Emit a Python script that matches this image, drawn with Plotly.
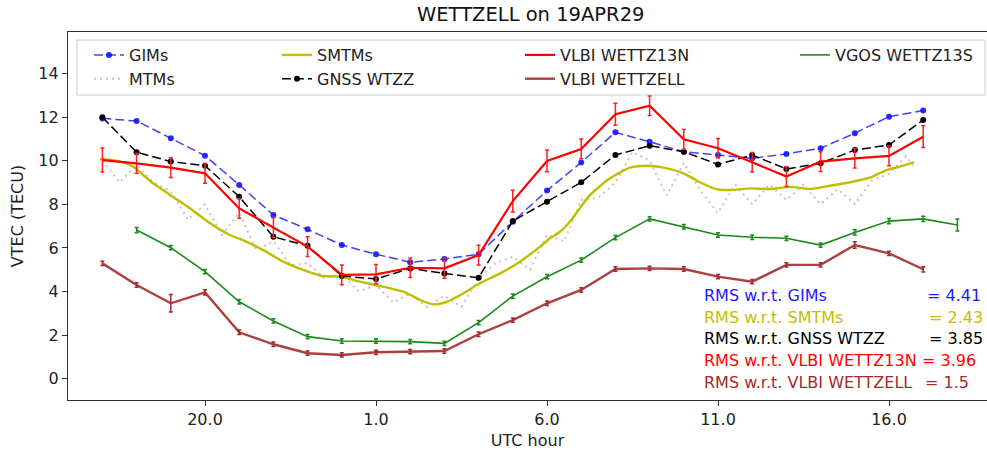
import plotly.graph_objects as go

# ---------------- data ----------------
hours = list(range(17, 42))  # 17 (prev day) ... 41 (=17 UTC)
gims = [11.94, 11.82, 11.03, 10.23, 8.89, 7.51, 6.85, 6.13, 5.71, 5.34, 5.49, 5.71, 7.2,
        8.63, 9.92, 11.3, 10.87, 10.41, 10.26, 10.11, 10.31, 10.57, 11.26, 12.02, 12.3]
gnss = [11.99, 10.39, 9.96, 9.77, 8.35, 6.51, 6.1, 4.71, 4.57, 5.06, 4.83, 4.63, 7.23,
        8.12, 9.01, 10.26, 10.69, 10.41, 9.83, 10.26, 9.62, 9.88, 10.49, 10.72, 11.87]
vlbi13n = [10.03, 9.88, 9.68, 9.42, 7.81, 6.93, 6.06, 4.76, 4.79, 5.09, 5.06, 5.67, 8.15,
           9.99, 10.54, 12.13, 12.52, 10.98, 10.57, 9.93, 9.27, 9.96, 10.11, 10.22, 11.1]
vlbi13n_err = [0.55, 0.45, 0.45, 0.45, 0.45, 0.45, 0.45, 0.45, 0.45, 0.45, 0.45, 0.45, 0.5,
               0.5, 0.45, 0.5, 0.45, 0.45, 0.45, 0.45, 0.45, 0.45, 0.45, 0.45, 0.5]
wettzell = [5.29, 4.3, 3.46, 3.96, 2.13, 1.58, 1.17, 1.09, 1.21, 1.24, 1.27, 2.04, 2.69,
            3.46, 4.07, 5.03, 5.06, 5.03, 4.68, 4.45, 5.22, 5.22, 6.13, 5.75, 5.02]
wettzell_err = [0.1, 0.1, 0.4, 0.12, 0.1, 0.1, 0.1, 0.1, 0.1, 0.1, 0.1, 0.1, 0.1,
                0.1, 0.1, 0.1, 0.1, 0.1, 0.1, 0.1, 0.1, 0.1, 0.15, 0.1, 0.12]
vgos_hours = list(range(18, 43))
vgos = [6.82, 6.01, 4.91, 3.53, 2.65, 1.93, 1.73, 1.73, 1.7, 1.62, 2.57, 3.79, 4.68,
        5.44, 6.47, 7.33, 6.97, 6.59, 6.49, 6.44, 6.13, 6.71, 7.23, 7.33, 7.05]
vgos_err = [0.12, 0.1, 0.1, 0.1, 0.1, 0.1, 0.1, 0.1, 0.1, 0.1, 0.1, 0.1, 0.1,
            0.1, 0.1, 0.1, 0.1, 0.1, 0.1, 0.1, 0.1, 0.12, 0.12, 0.12, 0.28]

smtm_hours = [16.93, 17.42, 17.9, 18.39, 18.98, 19.56, 20.15, 20.73, 21.22, 21.7, 22.29,
              22.87, 23.4, 23.95, 24.53, 25.21, 25.8, 26.29, 26.68, 27.07, 27.56, 28.04,
              28.63, 29.21, 29.8, 30.09, 30.38, 30.67, 31.26, 31.84, 32.43, 32.92, 33.4,
              33.99, 34.47, 34.96, 35.45, 35.94, 36.52, 37.1, 37.69, 38.27, 38.86, 39.44,
              39.93, 40.42, 40.73]
smtm = [10.08, 9.99, 9.73, 9.07, 8.43, 7.82, 7.13, 6.59, 6.28, 5.9, 5.37, 4.99, 4.72,
        4.68, 4.45, 4.22, 3.99, 3.61, 3.41, 3.53, 3.92, 4.38, 4.83, 5.37, 6.06, 6.44,
        6.74, 7.2, 8.43, 9.19, 9.68, 9.77, 9.68, 9.42, 9.01, 8.69, 8.66, 8.73, 8.7,
        8.8, 8.7, 8.85, 9.01, 9.22, 9.57, 9.77, 9.93]

mtm_hours = [17.0, 17.5, 18.0, 18.5, 19.0, 19.5, 20.0, 20.5, 21.0, 21.5, 22.0, 22.5, 23.0,
             23.5, 24.0, 24.5, 25.0, 25.5, 26.0, 26.5, 27.0, 27.5, 28.0, 28.5, 29.0, 29.5,
             30.0, 30.5, 31.0, 31.5, 32.0, 32.5, 33.0, 33.5, 34.0, 34.5, 35.0, 35.5, 36.0,
             36.5, 37.0, 37.5, 38.0, 38.5, 39.0, 39.5, 40.0, 40.5, 40.75]
mtm = [10.0, 9.0, 9.8, 9.0, 8.6, 7.3, 8.0, 6.6, 7.6, 5.9, 6.3, 5.2, 5.3,
       4.6, 4.8, 4.0, 4.3, 3.5, 3.9, 3.3, 3.8, 3.3, 4.6, 5.3, 5.6, 5.0,
       6.6, 6.3, 8.2, 8.3, 9.0, 10.4, 10.0, 8.4, 9.9, 8.6, 7.6, 8.9, 8.0,
       8.9, 8.2, 8.9, 8.0, 8.7, 8.0, 9.1, 9.4, 10.2, 9.7]

tick_vals = [20, 25, 30, 35, 40]
tick_text = ["20.0", "1.0", "6.0", "11.0", "16.0"]
y_ticks = [0, 2, 4, 6, 8, 10, 12, 14]

rms_labels = ["RMS w.r.t. GIMs", "RMS w.r.t. SMTMs", "RMS w.r.t. GNSS WTZZ",
              "RMS w.r.t. VLBI WETTZ13N", "RMS w.r.t. VLBI WETTZELL"]
rms_values = ["= 4.41", "= 2.43", "= 3.85", "= 3.96", "= 1.5"]
rms_colors = ["#1a1aff", "#bfbf00", "black", "#ff0000", "#a52a2a"]

# ---------------- layout geometry ----------------
W, H = 987, 456
L, R, T, B = 68, 0, 32, 56
PW, PH = W - L - R, H - T - B


def px(x):
    return (x - L) / PW


def py(y):
    return (H - B - y) / PH


FONT = "DejaVu Sans"
fig = go.Figure()

fig.add_trace(go.Scatter(x=hours, y=gims, name="GIMs", mode="lines+markers",
                         line=dict(color="rgba(0,0,255,0.75)", width=1.5, dash="9px,4px"),
                         marker=dict(color="rgba(20,20,255,0.9)", size=6),
                         legend="legend", legendgroup="a"))
fig.add_trace(go.Scatter(x=mtm_hours, y=mtm, name="MTMs", mode="lines",
                         line=dict(color="rgba(190,190,190,0.9)", width=2, dash="2px,4px"),
                         legend="legend", legendgroup="b"))
fig.add_trace(go.Scatter(x=smtm_hours, y=smtm, name="SMTMs", mode="lines",
                         line=dict(color="#bfbf00", width=2.4, shape="spline", smoothing=0.6),
                         legend="legend2", legendgroup="c"))
fig.add_trace(go.Scatter(x=hours, y=gnss, name="GNSS WTZZ", mode="lines+markers",
                         line=dict(color="black", width=1.5, dash="9px,4px"),
                         marker=dict(color="black", size=6),
                         legend="legend2", legendgroup="d"))
fig.add_trace(go.Scatter(x=hours, y=vlbi13n, name="VLBI WETTZ13N", mode="lines",
                         line=dict(color="#ff0000", width=2.2),
                         error_y=dict(type="data", array=vlbi13n_err, color="#ff2020",
                                      thickness=1.5, width=2),
                         legend="legend3", legendgroup="e"))
fig.add_trace(go.Scatter(x=hours, y=wettzell, name="VLBI WETTZELL", mode="lines",
                         line=dict(color="rgba(165,42,42,0.9)", width=2.4),
                         error_y=dict(type="data", array=wettzell_err, color="#a52a2a",
                                      thickness=1.5, width=2),
                         legend="legend3", legendgroup="f"))
fig.add_trace(go.Scatter(x=vgos_hours, y=vgos, name="VGOS WETTZ13S", mode="lines",
                         line=dict(color="#1a8a1a", width=1.6),
                         error_y=dict(type="data", array=vgos_err, color="#1a8a1a",
                                      thickness=1.5, width=2),
                         legend="legend4", legendgroup="g"))

leg_common = dict(bgcolor="rgba(0,0,0,0)", borderwidth=0, font=dict(family=FONT, size=16, color="#222"),
                  xanchor="left", yanchor="top", traceorder="grouped", tracegroupgap=0,
                  itemclick=False, itemdoubleclick=False)
leg_top = py(38)
fig.update_layout(
    legend=dict(x=px(89), y=leg_top, **leg_common),
    legend2=dict(x=px(277), y=leg_top, **leg_common),
    legend3=dict(x=px(520), y=leg_top, **leg_common),
    legend4=dict(x=px(795), y=leg_top, **leg_common),
)

# legend frame
fig.add_shape(type="rect", xref="paper", yref="paper", x0=px(77), x1=px(985), y0=py(95), y1=py(40),
              line=dict(color="#cccccc", width=1), fillcolor="rgba(255,255,255,0.8)", layer="below")

# RMS annotations
rms_y = [295, 317, 338.5, 360.5, 382.5]
eq_x = [925, 927, 927, 920, 923]
for lab, val, col, yy, ex in zip(rms_labels, rms_values, rms_colors, rms_y, eq_x):
    fig.add_annotation(text=lab, x=px(702), y=py(yy), xref="paper", yref="paper",
                       xanchor="left", yanchor="middle", showarrow=False,
                       font=dict(family=FONT, size=16, color=col))
    fig.add_annotation(text=val, x=px(ex), y=py(yy), xref="paper", yref="paper",
                       xanchor="left", yanchor="middle", showarrow=False,
                       font=dict(family=FONT, size=16, color=col))

# title
fig.add_annotation(text="WETTZELL on 19APR29", x=px(530), y=(H - 15 - B) / PH, xref="paper", yref="paper",
                   xanchor="center", yanchor="middle", showarrow=False,
                   font=dict(family=FONT, size=19.5, color="#111"))

x_lo = 20 + (L - 205) / 34.2
x_hi = 20 + (W - R - 205) / 34.2
y_lo = -(400 - 378.7) / 21.8
y_hi = (378.7 - 32) / 21.8

fig.update_layout(
    width=W, height=H,
    margin=dict(l=L, r=R, t=T, b=B, pad=0),
    paper_bgcolor="white", plot_bgcolor="white",
    font=dict(family=FONT, size=16, color="#222"),
    showlegend=True,
    xaxis=dict(range=[x_lo, x_hi], tickmode="array", tickvals=tick_vals, ticktext=tick_text,
               showgrid=False, zeroline=False, showline=True, linecolor="#333", linewidth=1.3,
               mirror=True, ticks="outside", ticklen=5, tickcolor="#333", tickwidth=1.3,
               tickfont=dict(family=FONT, size=16, color="#222"),
               title=dict(text="UTC hour", font=dict(family=FONT, size=16, color="#222"), standoff=6)),
    yaxis=dict(range=[y_lo, y_hi], tickmode="array", tickvals=y_ticks,
               showgrid=False, zeroline=False, showline=True, linecolor="#333", linewidth=1.3,
               ticks="outside", ticklen=5, tickcolor="#333", tickwidth=1.3,
               tickfont=dict(family=FONT, size=16, color="#222"),
               title=dict(text="VTEC (TECU)", font=dict(family=FONT, size=16, color="#222"), standoff=10)),
)

fig.write_html("out.html")
